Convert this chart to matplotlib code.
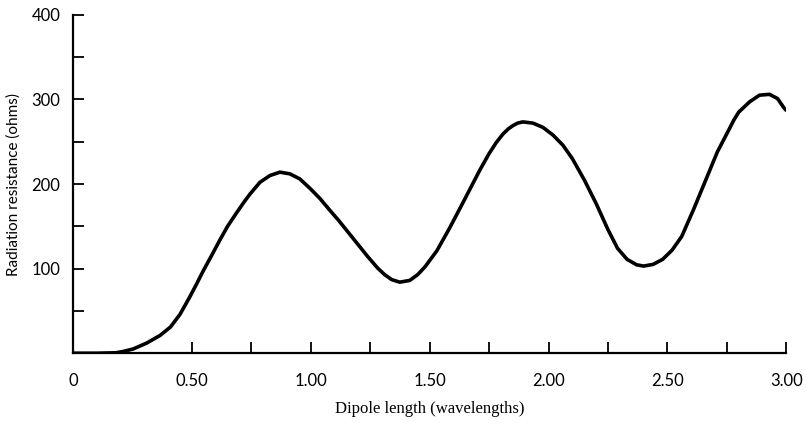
import matplotlib.pyplot as plt

# Radiation resistance of a dipole vs. length
length = [0.0, 0.10, 0.18, 0.21, 0.253, 0.31, 0.366, 0.41, 0.45, 0.49, 0.52,
          0.547, 0.58, 0.618, 0.65, 0.688, 0.72, 0.744, 0.786, 0.828, 0.87,
          0.912, 0.954, 0.996, 1.038, 1.08, 1.12, 1.16, 1.20, 1.24, 1.28,
          1.31, 1.34, 1.374, 1.416, 1.45, 1.48, 1.53, 1.584, 1.64, 1.71,
          1.75, 1.78, 1.808, 1.83, 1.85, 1.87, 1.892, 1.934, 1.976, 2.018,
          2.06, 2.10, 2.15, 2.20, 2.25, 2.29, 2.33, 2.37, 2.40, 2.44,
          2.48, 2.52, 2.56, 2.61, 2.66, 2.71, 2.76, 2.78, 2.80, 2.845,
          2.887, 2.929, 2.963, 2.99, 3.0]
resistance = [0, 0, 0.5, 2, 5, 12, 21, 31, 46, 66, 82,
              97, 114, 134, 150, 166, 179, 188, 202, 210, 214,
              212, 206, 195, 183, 169, 156, 142, 128, 114, 101,
              93, 87, 84, 86, 93, 102, 121, 148, 178, 216,
              236, 249, 259, 265, 269, 272, 273.4, 272, 267, 258,
              246, 230, 205, 177, 146, 124, 111, 104.5, 103, 105,
              111, 122, 138, 170, 204, 238, 265, 276, 285, 297,
              305, 306, 301, 290, 287]

xticks_major = [0, 0.5, 1.0, 1.5, 2.0, 2.5, 3.0]
xtick_labels = ['0', '0.50', '1.00', '1.50', '2.00', '2.50', '3.00']
xticks_minor = [0.75, 1.25, 1.75, 2.25, 2.75]
yticks_major = [100, 200, 300, 400]
yticks_minor = [50, 150, 250, 350]

fig = plt.figure(figsize=(8.06, 4.23), dpi=100)
ax = fig.add_axes([0.0906, 0.165, 0.885, 0.80])

ax.plot(length, resistance, color='black', linewidth=2.6,
        solid_capstyle='round', solid_joinstyle='round')

ax.set_xlim(0, 3.0)
ax.set_ylim(0, 400)
for s in ['top', 'right']:
    ax.spines[s].set_visible(False)
for s in ['left', 'bottom']:
    ax.spines[s].set_linewidth(1.6)

ax.set_xticks(xticks_major)
ax.set_xticklabels(xtick_labels, fontfamily='Lato', fontsize=12)
ax.set_xticks(xticks_minor, minor=True)
ax.set_yticks(yticks_major)
ax.set_yticklabels([str(v) for v in yticks_major], fontfamily='Lato', fontsize=12)
ax.set_yticks(yticks_minor, minor=True)

ax.tick_params(axis='both', which='both', direction='in', width=1.3, length=8, color='black')
ax.tick_params(axis='x', which='major', pad=14)
ax.tick_params(axis='y', which='major', pad=9)

ax.set_xlabel('Dipole length (wavelengths)', fontfamily='Liberation Serif', fontsize=12, labelpad=9)
ax.set_ylabel('Radiation resistance (ohms)', fontfamily='Lato', fontsize=11, labelpad=8)

plt.savefig('out.png', dpi=100)
